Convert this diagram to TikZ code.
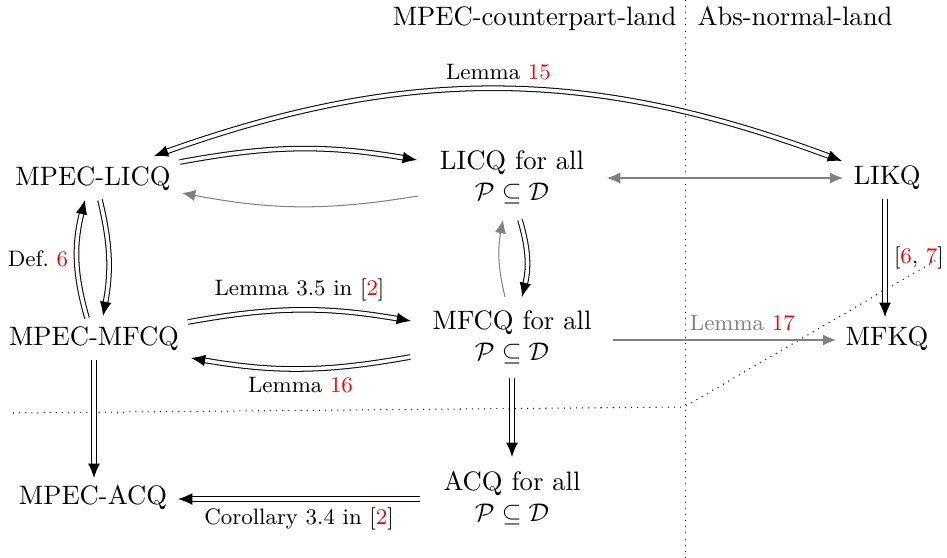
\documentclass[tikz,border=0pt]{standalone}
\usetikzlibrary{arrows.meta,calc}
\begin{document}
\begin{tikzpicture}[x=0.39216pt,y=-0.39216pt,
  every node/.style={font=\fontsize{10.45pt}{12.2pt}\selectfont},
  dbl/.style={double, double distance=1.4pt, line width=0.4pt, -{Latex[length=5.6pt,width=4.6pt]}},
  dblboth/.style={double, double distance=1.4pt, line width=0.4pt, {Latex[length=5.6pt,width=4.6pt]}-{Latex[length=5.6pt,width=4.6pt]}},
  gry/.style={draw=gray, line width=0.4pt, -{Latex[length=5.2pt,width=4.4pt]}},
  gryboth/.style={draw=gray, line width=0.4pt, {Latex[length=5.2pt,width=4.4pt]}-{Latex[length=5.2pt,width=4.4pt]}},
  lbl/.style={font=\fontsize{8.75pt}{10.5pt}\selectfont},
  cnode/.style={inner sep=0pt, align=center},
  sep/.style={dotted, line width=0.4pt}]
\useasboundingbox (0,0) rectangle (947,557);

% region separators
\draw[sep] (685,0) -- (685,557);
\draw[sep] (13,413) -- (684,407) -- (940,258);

% headers
\node[anchor=base east, inner sep=0pt] (hl) at (677,26) {MPEC-counterpart-land};
\node[anchor=base west, inner sep=0pt] (hr) at (697,26) {Abs-normal-land};

% nodes
\node[cnode] (ml) at (93,179) {MPEC-LICQ};
\node[cnode] (mm) at (94,339) {MPEC-MFCQ};
\node[cnode] (ma) at (93,498) {MPEC-ACQ};
\node[cnode] (lc) at (512,177) {LICQ for all\\ $\mathcal{P}\subseteq\mathcal{D}$};
\node[cnode] (mf) at (512,337) {MFCQ for all\\ $\mathcal{P}\subseteq\mathcal{D}$};
\node[cnode] (ac) at (512,498) {ACQ for all\\ $\mathcal{P}\subseteq\mathcal{D}$};
\node[cnode] (lk) at (887,178) {LIKQ};
\node[cnode] (mk) at (887,339) {MFKQ};

% connectors
\draw[dblboth] ($(ml)+(61,-23)$) to[bend left=20] node[midway,above,lbl] {Lemma \textcolor{red}{15}} ($(lk)+(-45,-17)$);
\draw[dbl] ($(ml)+(87,-17)$) to[bend left=10] ($(lc)+(-95,-17)$);
\draw[gry] ($(lc)+(-94,19)$) to[bend left=10] ($(ml)+(89,14)$);
\draw[gryboth] ($(lc)+(95,1)$) -- ($(lk)+(-44,0)$);
\draw[dbl] ($(lk)+(-2,21)$) -- node[midway,right,lbl] {[\textcolor{red}{6}, \textcolor{red}{7}]} ($(mk)+(-2,-22)$);
\draw[dbl] ($(mm)+(-7,-21)$) to[bend left=15] node[midway,left,lbl] {Def.~\textcolor{red}{6}} ($(ml)+(-8,21)$);
\draw[dbl] ($(ml)+(7,21)$) to[bend left=12] ($(mm)+(9,-23)$);
\draw[dbl] ($(mm)+(94,-17)$) to[bend left=10] node[midway,above,lbl] {Lemma 3.5 in [\textcolor{red}{2}]} ($(mf)+(-101,-16)$);
\draw[dbl] ($(mf)+(-102,20)$) to[bend left=10] node[midway,below,lbl] {Lemma \textcolor{red}{16}} ($(mm)+(97,19)$);
\draw[dbl] ($(lc)+(8,43)$) to[bend left=15] ($(mf)+(10,-40)$);
\draw[gry] ($(mf)+(-7,-40)$) to[bend left=12] ($(lc)+(-9,43)$);
\draw[gry] ($(mf)+(101,3)$) -- node[pos=0.58,above,lbl,text=gray] {Lemma \textcolor{red}{17}} ($(mk)+(-51,1)$);
\draw[dbl] ($(mm)+(0,21)$) -- ($(ma)+(1,-20)$);
\draw[dbl] ($(mf)+(0,41)$) -- ($(ac)+(0,-41)$);
\draw[dbl] ($(ac)+(-92,1)$) -- node[midway,below,lbl] {Corollary 3.4 in [\textcolor{red}{2}]} ($(ma)+(85,1)$);
\end{tikzpicture}
\end{document}
